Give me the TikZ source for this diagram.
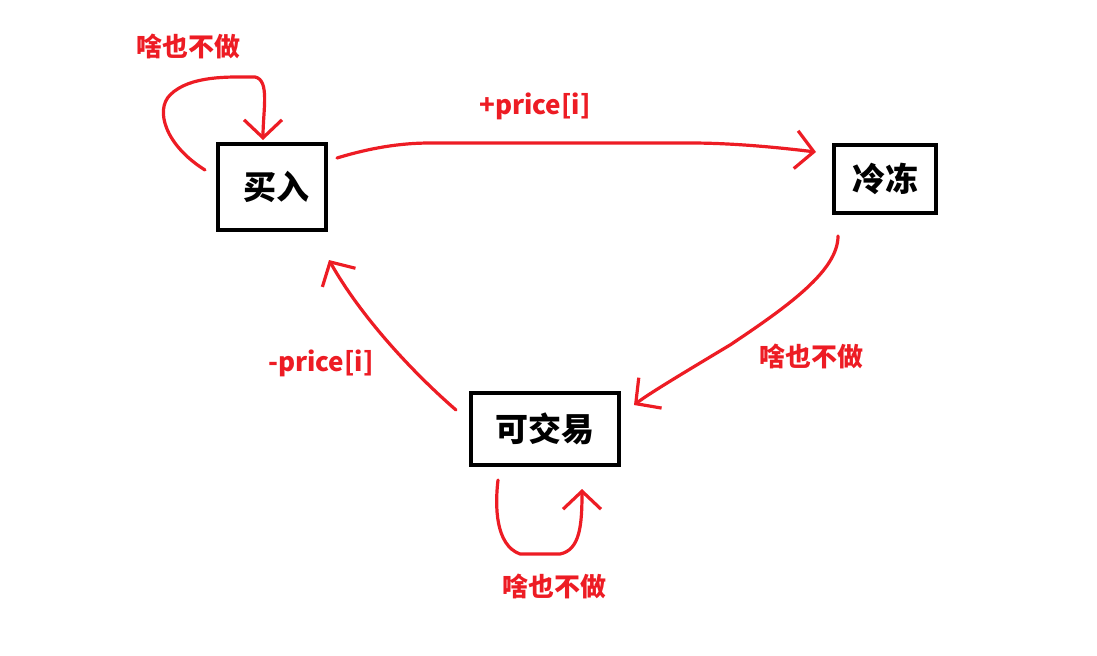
\documentclass[tikz,border=0pt]{standalone}
\usepackage{fontspec}
\setmainfont{Noto Sans CJK SC}
\usepackage{tikz}
\usetikzlibrary{arrows.meta,positioning,calc}
\definecolor{paintred}{RGB}{237,28,36}
\tikzset{
  snode/.style={rectangle,draw,line width=2pt,minimum width=54pt,minimum height=43pt,inner sep=2pt,font=\bfseries\fontsize{16.5}{19}\selectfont},
  lbl/.style={text=paintred,inner sep=0pt,font=\bfseries\fontsize{13}{15}\selectfont},
  te/.style={-{Straight Barb[length=9pt,width=19pt]},paintred,line width=1.6pt,line cap=round,line join=round}
}

\begin{document}
\begin{tikzpicture}[x=0.5pt,y=0.5pt]
\useasboundingbox (0,0) rectangle (1097,655);
\node[snode] (buy) at (272,468) {\hspace{4pt}买入};
\node[snode, minimum width=51pt, minimum height=34pt] (freeze) at (885,476) {冷冻};
\node[snode, minimum width=74pt, minimum height=36pt] (trade) at (545,226) {可交易};
% labels
\node[lbl] (idle1) at (188,609) {啥也不做};
\node[lbl] (sell) at (535,549) {+price[i]};
\node[lbl] (idle2) at (811,299) {啥也不做};
\node[lbl] (pay) at (321,292) {-price[i]};
\node[lbl] (idle3) at (554,69) {啥也不做};
% transitions
\draw[te] ($(buy.west)+(-11,17)$) .. controls (165,510) and (155,545) .. (170,560)
  .. controls (190,580) and (230,578) .. (255,578) .. controls (270,575) and (263,545) .. ($(buy.north)+(-9,2)$);
\draw[te] ($(buy.north east)+(9,-16)$) .. controls (370,507) and (400,512) .. (430,512) -- (690,512)
  .. controls (740,512) and (790,506) .. ($(freeze.north west)+(-16,-9)$);
\draw[te] ($(freeze.south west)+(6,-21)$) .. controls (838,385) and (790,350) .. (730,310)
  .. controls (680,280) and (650,262) .. ($(trade.north east)+(13,-14)$);
\draw[te] ($(trade.north west)+(-13,-19)$) .. controls (410,285) and (360,340) .. ($(buy.south east)+(1,-28)$);
\draw[te] ($(trade.south west)+(29,-13)$) .. controls (495,150) and (495,110) .. (520,101) -- (560,101)
  .. controls (580,105) and (582,130) .. ($(trade.south)+(37,-22)$);
\end{tikzpicture}
\end{document}
